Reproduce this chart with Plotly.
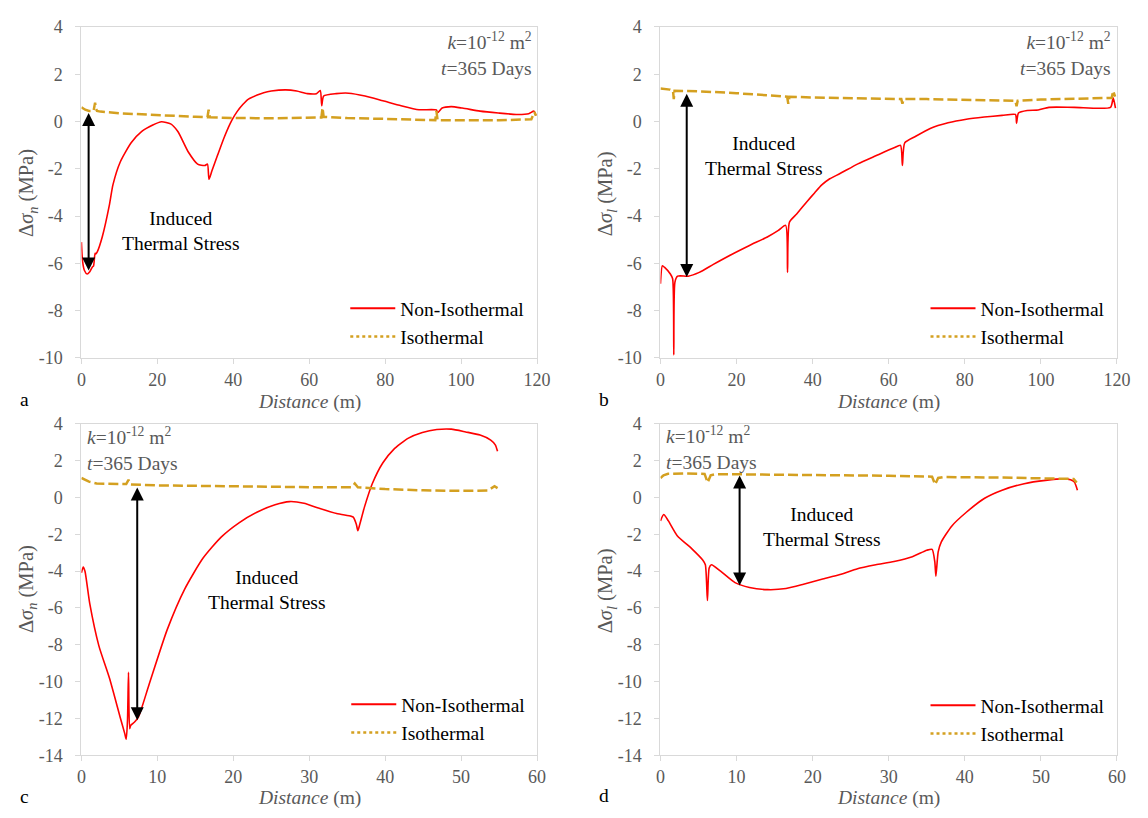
import plotly.graph_objects as go

# ---------------- data ----------------
# Panel a: normal stress change, 120 m fracture
a_x_non = [0, 0.3, 0.8, 1.5, 2.2, 2.9, 3.2, 3.6, 3.8, 4.2, 5.5, 7.4, 8.3, 10.2, 13.1, 15.9, 18.8, 21.1, 23.5, 25.4,
           28.2, 30.6, 32.5, 33.2, 33.6, 34.4, 35.8, 37.7, 39.6, 41.0, 42.5, 44.0, 46.3, 48.0, 50, 53.8, 56.7, 59.5,
           61.9, 62.9, 63.3, 63.8, 67.1, 70.4, 74.7, 79.4, 84.2, 88.9, 93.5, 93.8, 95, 97.4, 100.3, 105, 109.8,
           114.5, 117.8, 119.2, 119.7]
a_y_non = [-5.1, -5.9, -6.3, -6.45, -6.35, -6.15, -6.1, -5.57, -5.6, -5.5, -4.87, -3.5, -2.68, -1.72, -0.9, -0.42,
           -0.15, -0.01, -0.1, -0.42, -1.3, -1.8, -1.86, -1.8, -2.44, -2.07, -1.45, -0.63, 0.05, 0.42, 0.72, 0.95,
           1.12, 1.22, 1.29, 1.34, 1.29, 1.18, 1.18, 1.31, 0.67, 1.08, 1.18, 1.2, 1.08, 0.88, 0.67, 0.5, 0.49, 0.37,
           0.57, 0.63, 0.57, 0.44, 0.36, 0.3, 0.33, 0.44, 0.26]
a_x_iso = [0, 1, 2, 3.2, 3.6, 3.8, 4.1, 5, 10, 20, 30, 33.2, 33.5, 33.8, 40, 50, 60, 63.2, 63.5, 63.8, 70, 80,
           93.2, 93.5, 93.8, 100, 110, 118.5, 119.3, 119.7]
a_y_iso = [0.6, 0.5, 0.45, 0.45, 0.8, 0.55, 0.45, 0.42, 0.35, 0.26, 0.2, 0.18, 0.5, 0.18, 0.15, 0.14, 0.17, 0.17,
           0.58, 0.2, 0.15, 0.12, 0.06, 0.45, 0.06, 0.05, 0.05, 0.1, 0.4, 0.25]

# Panel b: shear stress change, 120 m fracture
b_x_non = [0, 0.5, 1.1, 2.6, 3.2, 3.5, 3.8, 4.5, 7.3, 10.2, 13.9, 18.7, 23.4, 28.2, 31, 32.9, 33.4, 33.9, 35.8,
           38.6, 40.5, 42.4, 44.5, 47.2, 51.9, 56.6, 61.4, 63.1, 63.6, 64.2, 67, 70.9, 75.6, 80.4, 85.1, 89.8, 93.3,
           93.6, 94.1, 96.4, 99.3, 102.1, 108.8, 118.3, 119, 119.6]
b_y_non = [-6.86, -6.1, -6.17, -6.45, -6.65, -9.87, -6.79, -6.54, -6.54, -6.38, -6.04, -5.62, -5.24, -4.87, -4.6,
           -4.39, -6.38, -4.26, -3.91, -3.37, -3.02, -2.68, -2.42, -2.2, -1.79, -1.45, -1.11, -1.01, -1.86, -0.9,
           -0.63, -0.29, -0.05, 0.1, 0.19, 0.26, 0.3, -0.08, 0.36, 0.47, 0.49, 0.6, 0.6, 0.6, 1.0, 0.57]
b_x_iso = [0, 1, 2.5, 3.3, 3.5, 3.7, 4.5, 10, 20, 30, 33.3, 33.6, 33.9, 40, 50, 60, 63.3, 63.6, 63.9, 70, 80, 90,
           93.3, 93.6, 93.9, 100, 110, 118.6, 119, 119.5]
b_y_iso = [1.4, 1.38, 1.35, 1.3, 0.95, 1.3, 1.3, 1.28, 1.2, 1.1, 1.05, 0.75, 1.05, 1.02, 0.98, 0.96, 0.95, 0.75,
           0.95, 0.95, 0.93, 0.9, 0.88, 0.65, 0.88, 0.93, 0.98, 1.0, 1.3, 1.05]

# Panel c: normal stress change, 55 m fracture
c_x_non = [0, 0.24, 0.47, 1.1, 2.3, 3.7, 5.1, 5.7, 5.9, 6.07, 6.2, 6.35, 6.5, 7.0, 7.5, 8.9, 11.3, 13.6, 16.0, 18.4,
           20.8, 23.1, 25.5, 27.4, 29.3, 31.2, 33.6, 35.5, 35.8, 36.2, 36.4, 36.6, 37.3, 38.3, 39.7, 41.1, 43, 44.9,
           46.8, 48.7, 50.6, 52.5, 53.9, 54.5, 54.8]
c_y_non = [-4.1, -3.78, -4.01, -5.77, -8.06, -9.82, -11.93, -12.81, -13.13, -12.1, -9.5, -12.55, -12.37, -12.19,
           -11.93, -10.17, -7.18, -4.98, -3.31, -2.16, -1.37, -0.81, -0.4, -0.23, -0.32, -0.58, -0.88, -1.02, -1.07,
           -1.46, -1.81, -1.55, -0.49, 0.74, 1.88, 2.59, 3.2, 3.52, 3.68, 3.7, 3.55, 3.38, 3.11, 2.85, 2.5]
c_x_iso = [0, 0.5, 1, 2, 4, 5.9, 6.2, 6.5, 10, 20, 30, 35.6, 36.0, 36.4, 38, 40, 45, 50, 53.5, 54.4, 54.8]
c_y_iso = [1.05, 0.95, 0.85, 0.75, 0.72, 0.72, 0.95, 0.7, 0.65, 0.58, 0.55, 0.55, 0.75, 0.55, 0.5, 0.45, 0.38,
           0.35, 0.37, 0.6, 0.5]

# Panel d: shear stress change, 55 m fracture
d_x_non = [0, 0.43, 1.04, 2.2, 4.1, 5.55, 5.9, 6.17, 6.4, 6.7, 7.9, 9.8, 11.7, 14.1, 16.5, 18.8, 21.2, 23.6, 25.9,
           28.3, 30.7, 33.1, 35, 35.7, 36.05, 36.2, 36.5, 36.9, 38.3, 40.2, 42.6, 44.9, 47.8, 50.6, 53, 53.9, 54.4, 54.8]
d_y_non = [-1.28, -0.93, -1.28, -2.08, -2.78, -3.4, -3.66, -5.6, -3.84, -3.66, -4.01, -4.63, -4.89, -5.01, -4.95,
           -4.72, -4.45, -4.19, -3.87, -3.66, -3.48, -3.22, -2.87, -2.82, -3.48, -4.28, -2.96, -2.43, -1.55, -0.81,
           -0.05, 0.39, 0.74, 0.92, 1.0, 0.95, 0.83, 0.39]
d_x_iso = [0, 0.4, 1, 3, 5.8, 6.2, 6.6, 7.2, 10, 20, 30, 35.7, 36.1, 36.5, 37.2, 45, 54, 54.3, 54.7]
d_y_iso = [1.05, 1.2, 1.28, 1.3, 1.27, 0.8, 1.2, 1.25, 1.25, 1.22, 1.17, 1.12, 0.7, 1.05, 1.1, 1.07, 1.02, 1.0, 0.8]

# arrows (x, top, bottom) marking induced thermal stress
arrows = {"a": (1.9, 0.42, -6.3), "b": (6.9, 1.24, -6.57), "c": (7.35, 0.61, -12.1), "d": (10.4, 1.26, -4.79)}
label_pos = {"a": (26.2, -4.62), "b": (27.2, -1.44), "c": (24.5, -5.03), "d": (21.25, -1.59)}

series_names = ["Non-Isothermal", "Isothermal"]
x_ticks_long = [0, 20, 40, 60, 80, 100, 120]
x_ticks_short = [0, 10, 20, 30, 40, 50, 60]
y_ticks_top = [4, 2, 0, -2, -4, -6, -8, -10]
y_ticks_bot = [4, 2, 0, -2, -4, -6, -8, -10, -12, -14]

# ---------------- styling ----------------
W, H = 1148, 818
FONT = "Times New Roman, Liberation Serif, DejaVu Serif, serif"
GRAY = "#595959"
RED = "#FF0000"
GOLD = "#D4A020"
AXC = "#D9D9D9"

def px(x):
    return x / W

def py(y):
    return 1 - y / H

dom_x = {"a": [px(77.7), px(541)], "b": [px(666.5), px(1130.7)],
         "c": [px(77.7), px(541)], "d": [px(666.5), px(1130.7)]}
dom_y = {"a": [py(356.7), py(17.4)], "b": [py(356.7), py(17.4)],
         "c": [py(764), py(424)], "d": [py(764), py(424)]}

panels = [
    ("a", "", a_x_non, a_y_non, a_x_iso, a_y_iso, x_ticks_long, y_ticks_top, [0, 120], [-10, 4], "n"),
    ("b", "2", b_x_non, b_y_non, b_x_iso, b_y_iso, x_ticks_long, y_ticks_top, [0, 120], [-10, 4], "l"),
    ("c", "3", c_x_non, c_y_non, c_x_iso, c_y_iso, x_ticks_short, y_ticks_bot, [0, 60], [-14, 4], "n"),
    ("d", "4", d_x_non, d_y_non, d_x_iso, d_y_iso, x_ticks_short, y_ticks_bot, [0, 60], [-14, 4], "l"),
]

fig = go.Figure()
layout = dict(width=W, height=H, margin=dict(l=0, r=0, t=0, b=0),
              paper_bgcolor="white", plot_bgcolor="white",
              font=dict(family=FONT, size=18, color=GRAY), annotations=[])

legend_pos = {"a": (346, 286), "b": (936, 286), "c": (347, 692), "d": (936, 693)}
ktext_pos = {"a": (538, 45, "right"), "b": (1127, 45, "right"), "c": (81, 450, "left"), "d": (670, 449, "left")}
ytitle_pos = {"a": (23, 188), "b": (612, 188), "c": (23, 594), "d": (612, 595)}
xtitle_y = {"a": 402, "b": 402, "c": 808, "d": 808}
letter_pos = {"a": (20, 399), "b": (609, 399), "c": (20, 806), "d": (609, 805)}

for key, sfx, xn, yn, xi, yi, xt, yt, xr, yr, sub in panels:
    xa = "x" + sfx
    ya = "y" + sfx
    leg = "legend" + sfx
    fig.add_trace(go.Scatter(x=xn, y=yn, mode="lines", line=dict(color=RED, width=1.6, shape="spline", smoothing=0.6),
                             xaxis=xa, yaxis=ya, showlegend=False, hoverinfo="skip"))
    fig.add_trace(go.Scatter(x=xi, y=yi, mode="lines", line=dict(color=GOLD, width=2.5, dash="10px,4px"),
                             xaxis=xa, yaxis=ya, showlegend=False, hoverinfo="skip"))
    # legend entries
    fig.add_trace(go.Scatter(x=[None], y=[None], mode="lines", name=series_names[0],
                             line=dict(color=RED, width=2), xaxis=xa, yaxis=ya, legend=leg,
                             legendgroup=key + "1"))
    fig.add_trace(go.Scatter(x=[None], y=[None], mode="lines", name=series_names[1],
                             line=dict(color=GOLD, width=2.5, dash="dot"), xaxis=xa, yaxis=ya, legend=leg,
                             legendgroup=key + "2"))

    axis_common = dict(showline=True, mirror=True, linecolor=AXC, linewidth=1, ticks="outside",
                       ticklen=5, tickcolor=AXC, showgrid=False, zeroline=False,
                       tickfont=dict(family=FONT, size=18, color=GRAY))
    layout["xaxis" + sfx] = dict(domain=dom_x[key], range=xr, tickvals=xt, ticktext=[str(v) for v in xt],
                                 anchor=ya, ticklabelstandoff=0, **axis_common)
    layout["yaxis" + sfx] = dict(domain=dom_y[key], range=yr, tickvals=yt, ticktext=[str(v) for v in yt],
                                 anchor=xa, ticklabelstandoff=9, **axis_common)
    lx, ly = legend_pos[key]
    layout[leg] = dict(x=px(lx), y=py(ly), xanchor="left", yanchor="top", bgcolor="rgba(0,0,0,0)",
                       font=dict(family=FONT, size=19.5, color="black"), tracegroupgap=0, itemwidth=45)

    ann = layout["annotations"]
    ax_, top, bot = arrows[key]
    ann.append(dict(x=ax_, y=bot, ax=ax_, ay=top, xref=xa, yref=ya, axref=xa, ayref=ya, text="",
                    showarrow=True, arrowhead=2, startarrowhead=2, arrowside="end+start",
                    arrowwidth=2, arrowsize=1.3, startarrowsize=1.3, arrowcolor="black"))
    tx, ty = label_pos[key]
    ann.append(dict(x=tx, y=ty, xref=xa, yref=ya, text="Induced<br>Thermal Stress", showarrow=False,
                    xanchor="center", yanchor="middle",
                    font=dict(family=FONT, size=19.5, color="black"), align="center"))
    kx, ky, al = ktext_pos[key]
    ann.append(dict(x=px(kx), y=py(ky), xref="paper", yref="paper", xanchor=al, yanchor="middle",
                    text="<i>k</i>=10<sup>-12</sup> m<sup>2</sup><br><i>t</i>=365 Days", align=al,
                    showarrow=False, font=dict(family=FONT, size=19.5, color=GRAY)))
    tyx, tyy = ytitle_pos[key]
    ann.append(dict(x=px(tyx), y=py(tyy), xref="paper", yref="paper", textangle=-90,
                    xanchor="center", yanchor="middle",
                    text="Δ<i>σ<sub>%s</sub></i> (MPa)" % sub, showarrow=False,
                    font=dict(family=FONT, size=20.5, color=GRAY)))
    cx = (dom_x[key][0] + dom_x[key][1]) / 2
    ann.append(dict(x=cx, y=py(xtitle_y[key]), xref="paper", yref="paper", xanchor="center", yanchor="middle",
                    text="<i>Distance</i> (m)", showarrow=False,
                    font=dict(family=FONT, size=19.5, color=GRAY)))
    lpx, lpy = letter_pos[key]
    ann.append(dict(x=px(lpx), y=py(lpy), xref="paper", yref="paper", xanchor="center", yanchor="middle",
                    text=key, showarrow=False, font=dict(family=FONT, size=19.5, color="black")))

fig.update_layout(**layout)
fig.write_html("out.html")
